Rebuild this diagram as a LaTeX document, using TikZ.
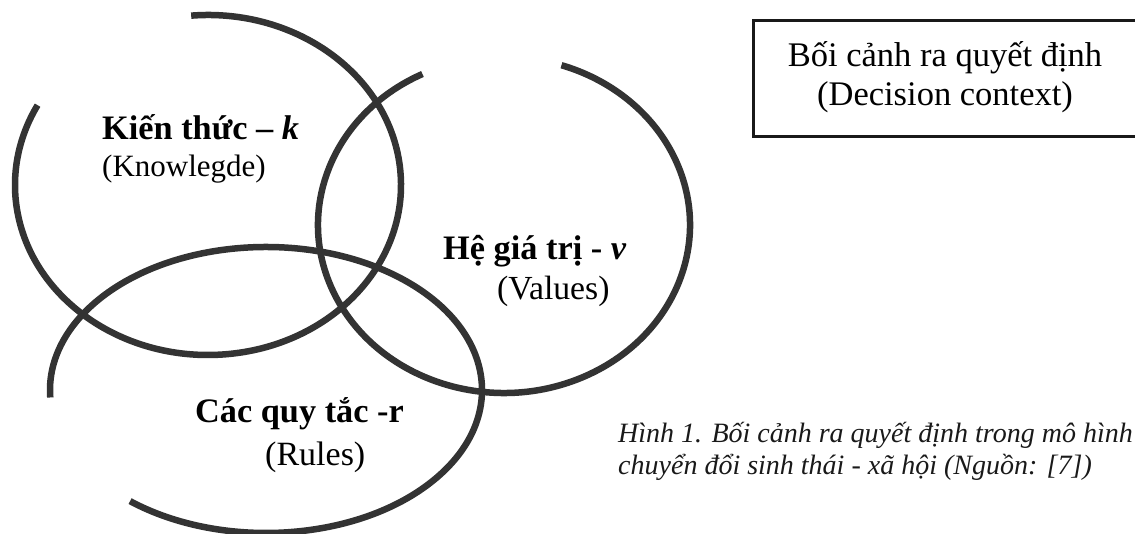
\documentclass[tikz,border=0pt]{standalone}
\usepackage{fontspec}
\setmainfont{Liberation Serif}
\begin{document}
\begin{tikzpicture}[x=1pt,y=1pt,
  ring/.style={draw=black!80,line width=6.5pt},
  lbl/.style={inner sep=0pt,anchor=base west,text=black},
  frame/.style={draw=black!90,line width=3pt}]
\useasboundingbox (0,0) rectangle (1135,534);
% Knowledge ring
\draw[ring] ([shift={(95:193 and 170)}]208,349) arc[start angle=95,end angle=-208,x radius=193,y radius=170];
% Values ring
\draw[ring] ([shift={(116:186 and 168)}]504,309) arc[start angle=116,end angle=432,x radius=186,y radius=168];
% Rules ring
\draw[ring] ([shift={(231:216 and 143)}]266,144) arc[start angle=231,end angle=543,x radius=216,y radius=143];
% labels
\node[lbl,font=\fontsize{34.3}{37}\selectfont\bfseries] (k1) at (102,394) {Kiến thức – \textit{k}};
\node[lbl,font=\fontsize{31}{34}\selectfont] (k2) at (102,357) {(Knowlegde)};
\node[lbl,font=\fontsize{34.3}{37}\selectfont\bfseries] (v1) at (443,274) {Hệ giá trị - \textit{v}};
\node[lbl,font=\fontsize{33.7}{36}\selectfont] (v2) at (497,234) {(Values)};
\node[lbl,font=\fontsize{34.3}{37}\selectfont\bfseries] (r1) at (195,111) {Các quy tắc -r};
\node[lbl,font=\fontsize{34}{37}\selectfont] (r2) at (265,68) {(Rules)};
% decision context box
\draw[frame] (753,513) rectangle (1145,397);
\node[inner sep=0pt,anchor=base,font=\fontsize{34.5}{38}\selectfont] (d1) at (945,467) {Bối cảnh ra quyết định};
\node[inner sep=0pt,anchor=base,font=\fontsize{34.5}{38}\selectfont] (d2) at (945,428) {(Decision context)};
% caption
\node[lbl,font=\fontsize{28}{30}\selectfont\itshape,text=black!90] (c1) at (618,91) {Hình 1. Bối cảnh ra quyết định trong mô hình};
\node[lbl,font=\fontsize{28}{30}\selectfont\itshape,text=black!90] (c2) at (618,59) {chuyển đổi sinh thái - xã hội (Nguồn: [7])};
\end{tikzpicture}
\end{document}
